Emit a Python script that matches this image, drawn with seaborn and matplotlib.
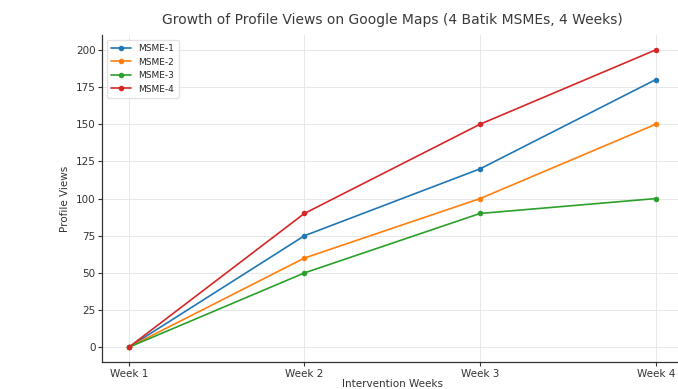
import matplotlib
matplotlib.use("Agg")
import matplotlib.pyplot as plt
import pandas as pd
import seaborn as sns

weeks = ["Week 1", "Week 2", "Week 3", "Week 4"]
msme_1 = [0, 75, 120, 180]
msme_2 = [0, 60, 100, 150]
msme_3 = [0, 50, 90, 100]
msme_4 = [0, 90, 150, 200]

series = {"MSME-1": msme_1, "MSME-2": msme_2, "MSME-3": msme_3, "MSME-4": msme_4}
rows = []
for name, vals in series.items():
    for i, v in enumerate(vals):
        rows.append({"week": i, "views": v, "msme": name})
df = pd.DataFrame(rows)

sns.set_style("whitegrid")
plt.rcParams["font.family"] = ["DejaVu Sans"]

fig = plt.figure(figsize=(6.78, 3.89), dpi=100)
ax = fig.add_axes([0.151, 0.069, 0.855, 0.841])

palette = ["#1f77b4", "#ff7f0e", "#2ca02c", "#d62728"]
sns.lineplot(data=df, x="week", y="views", hue="msme", palette=palette,
             marker="o", markersize=4, markeredgewidth=0, linewidth=1.2, ax=ax)

ax.set_xticks(range(len(weeks)))
ax.set_xticklabels(weeks)
ax.set_yticks([0, 25, 50, 75, 100, 125, 150, 175, 200])
ax.margins(x=0.05)
ax.set_ylim(-10, 210)
ax.grid(True, color="#e8e8e8", linewidth=0.7)
ax.tick_params(axis="both", labelsize=7.5, colors="#333333", length=3, width=0.8,
               left=True, bottom=True, pad=2)
for side in ["top", "right"]:
    ax.spines[side].set_visible(False)
for side in ["left", "bottom"]:
    ax.spines[side].set_color("#333333")
    ax.spines[side].set_linewidth(0.9)

ax.set_title("Growth of Profile Views on Google Maps (4 Batik MSMEs, 4 Weeks)",
             fontsize=10, color="#3a3a3a", pad=8)
ax.set_xlabel("Intervention Weeks", fontsize=7.5, color="#333333", labelpad=0)
ax.set_ylabel("Profile Views", fontsize=7.5, color="#333333", labelpad=4)

leg = ax.legend(loc="upper left", fontsize=6.5, frameon=True, borderpad=0.5,
                handlelength=2.2, labelspacing=0.5)
leg.get_frame().set_edgecolor("#dddddd")

fig.savefig("out.png", dpi=100)
